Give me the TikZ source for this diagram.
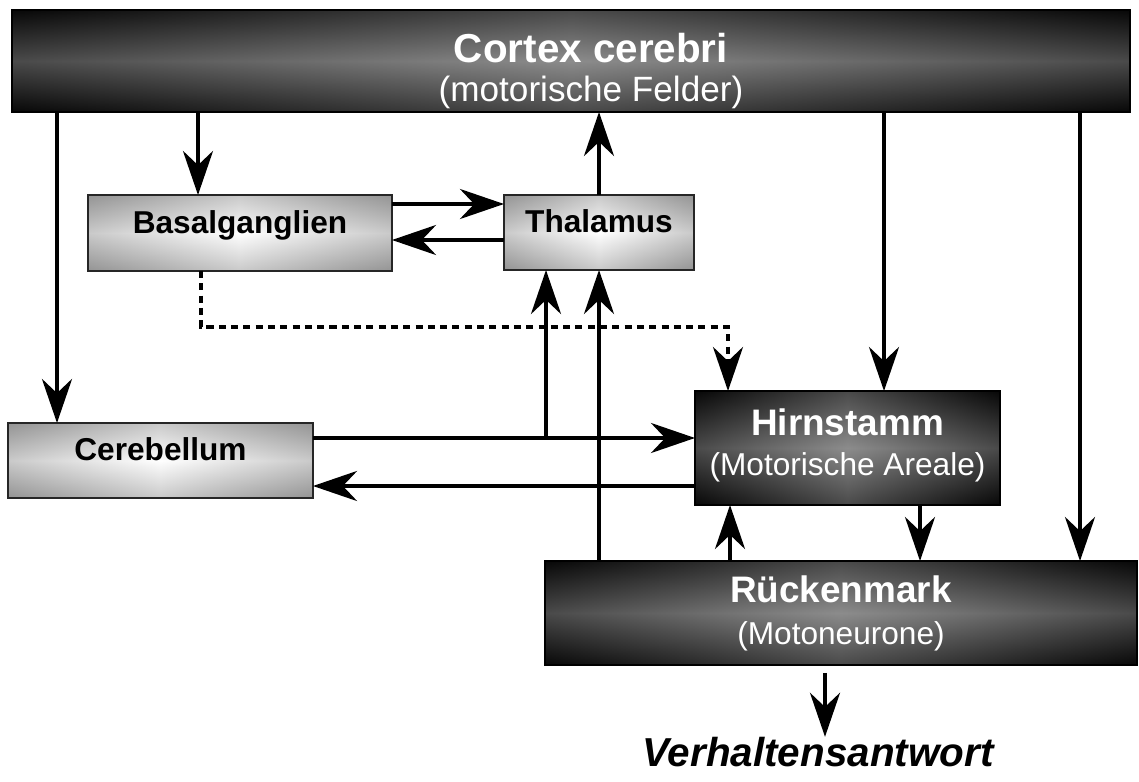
\documentclass[tikz,border=0pt]{standalone}
\usepackage{fontspec}
\setmainfont{Liberation Sans}
\usetikzlibrary{arrows.meta,positioning}

\tikzset{
  darkbox/.style={draw=black, line width=0.9pt, inner sep=0pt, outer sep=0pt,
    text=white, align=center,
    preaction={fill opacity=1, left color=black!97, right color=black!97, middle color=black!45},
    top color=black!97, bottom color=black!97, middle color=black!45,
    fill opacity=0.5, text opacity=1},
  lightbox/.style={draw=black!85, line width=0.9pt, inner sep=0pt, outer sep=0pt,
    text=black, text height=10pt, text depth=10pt,
    font=\fontsize{18}{21}\selectfont\bfseries,
    preaction={fill opacity=1, left color=black!42, right color=black!42, middle color=white},
    top color=black!42, bottom color=black!42, middle color=white,
    fill opacity=0.5, text opacity=1},
  arr/.style={line width=2.8pt, -{Stealth[length=25pt,width=17pt,inset=8pt]}},
  dotarr/.style={arr, dash pattern=on 4pt off 3pt},
}

\begin{document}
\begin{tikzpicture}[x=0.02cm, y=-0.02cm]
  \useasboundingbox (0,0) rectangle (1139,781);

  % boxes
  \node[darkbox, minimum width=22.36cm, minimum height=2.04cm,
        font=\fontsize{20}{22.5}\selectfont] (cortex) at (571,61)
        {\hspace*{0.8cm}{\fontsize{23}{22.5}\selectfont\bfseries\rule{0pt}{28pt}Cortex cerebri}\\
         \hspace*{0.8cm}(motorische Felder)};
  \node[lightbox, minimum width=6.08cm, minimum height=1.52cm] (basal) at (240,233) {Basalganglien};
  \node[lightbox, minimum width=3.8cm, minimum height=1.5cm] (thal) at (599,232.5) {Thalamus};
  \node[lightbox, minimum width=6.1cm, minimum height=1.5cm] (cereb) at (160.5,460.5) {Cerebellum};
  \node[darkbox, minimum width=6.1cm, minimum height=2.28cm,
        font=\fontsize{18}{22.7}\selectfont] (hirn) at (847.5,448)
        {{\fontsize{21}{22.7}\selectfont\bfseries Hirnstamm}\\(Motorische Areale)\rule[-7pt]{0pt}{1pt}};
  \node[darkbox, minimum width=11.84cm, minimum height=2.08cm,
        font=\fontsize{18}{23.8}\selectfont] (rueck) at (841,613)
        {{\fontsize{21}{23.8}\selectfont\bfseries R\"uckenmark}\\(Motoneurone)};
  \node[inner sep=0pt, font=\fontsize{23}{27}\selectfont\bfseries\itshape] (verh) at (818,752) {Verhaltensantwort};

  % columns and rows of the connectors
  \coordinate (xa) at (57,0);
  \coordinate (xb) at (198,0);
  \coordinate (xc) at (201,0);
  \coordinate (xd) at (546,0);
  \coordinate (xe) at (728,0);
  \coordinate (xf) at (730,0);
  \coordinate (xg) at (825,0);
  \coordinate (xh) at (884,0);
  \coordinate (xi) at (920,0);
  \coordinate (xj) at (1080,0);
  \coordinate (ya) at (0,204);
  \coordinate (yb) at (0,240);
  \coordinate (yc) at (0,327);
  \coordinate (yd) at (0,438);
  \coordinate (ye) at (0,486);

  % from the cortex
  \draw[arr] (cortex.south -| xa) -- (cereb.north -| xa);
  \draw[arr] (cortex.south -| xb) -- (basal.north -| xb);
  \draw[arr] (cortex.south -| xh) -- (hirn.north -| xh);
  \draw[arr] (cortex.south -| xj) -- (rueck.north -| xj);
  \draw[arr] (thal.north) -- (thal.north |- cortex.south);

  % basal ganglia loop
  \draw[arr] (basal.east |- ya) -- (thal.west |- ya);
  \draw[arr] (thal.west |- yb) -- (basal.east |- yb);
  \draw[dotarr] (basal.south -| xc) -- (xc |- yc) -- (xe |- yc) -- (hirn.north -| xe);

  % cerebellum
  \draw[arr] (cereb.east |- yd) -- (hirn.west |- yd);
  \draw[arr] (xd |- yd) -- (thal.south -| xd);
  \draw[arr] (hirn.west |- ye) -- (cereb.east |- ye);

  % spinal cord
  \draw[arr] (rueck.north -| thal.south) -- (thal.south);
  \draw[arr] (rueck.north -| xf) -- (hirn.south -| xf);
  \draw[arr] (hirn.south -| xi) -- (rueck.north -| xi);
  \draw[arr, shorten <=4.5pt] (rueck.south -| xg) -- (verh.north -| xg);
\end{tikzpicture}
\end{document}
